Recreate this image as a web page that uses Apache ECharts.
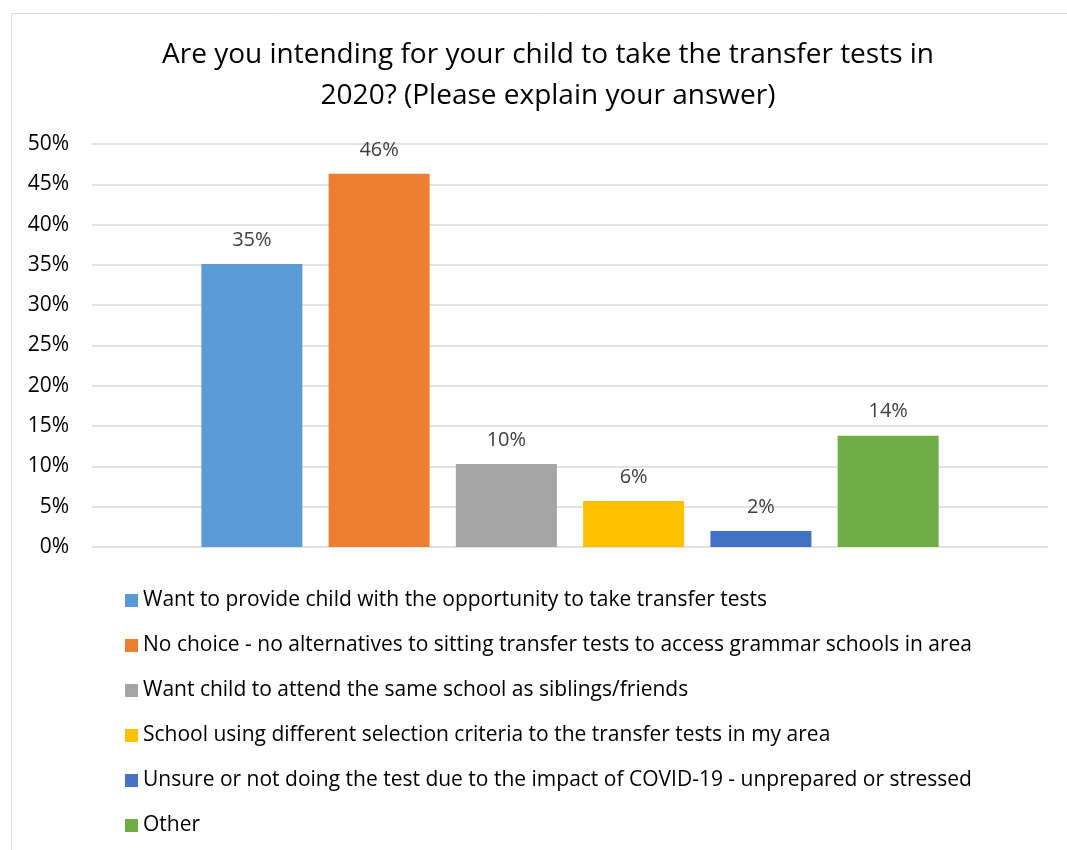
<!DOCTYPE html>
<html>
<head>
<meta charset="utf-8">
<title>Transfer tests 2020</title>
<script src="https://cdn.jsdelivr.net/npm/echarts@6/dist/echarts.min.js"></script>
<style>
  html, body { margin: 0; padding: 0; background: #fff; }
  #chart { width: 1067px; height: 850px; }
</style>
</head>
<body>
<div id="chart"></div>
<script>
// answers (one series each, like the Excel chart)
var answers = [
  "Want to provide child with the opportunity to take transfer tests",
  "No choice - no alternatives to sitting transfer tests to access grammar schools in area",
  "Want child to attend the same school as siblings/friends",
  "School using different selection criteria to the transfer tests in my area",
  "Unsure or not doing the test due to the impact of COVID-19 - unprepared or stressed",
  "Other"
];
// share of respondents, %
var shares = [35.1, 46.3, 10.3, 5.7, 2.0, 13.8];
var colors = ["#5B9BD5", "#ED7D31", "#A5A5A5", "#FFC000", "#4472C4", "#70AD47"];
var yTicks = [0, 5, 10, 15, 20, 25, 30, 35, 40, 45, 50];

var myChart = echarts.init(document.getElementById("chart"));
var font = "'Open Sans', sans-serif";

var series = answers.map(function (name, i) {
  return {
    name: name,
    type: "bar",
    barWidth: 101,
    barGap: "26%",
    itemStyle: { color: colors[i] },
    label: {
      show: true,
      position: "top",
      distance: 14,
      color: "#404040",
      fontSize: 20,
      fontFamily: font,
      formatter: function (p) { return Math.round(p.value) + "%"; }
    },
    data: [shares[i]]
  };
});

var option = {
  animation: false,
  backgroundColor: "#fff",
  textStyle: { fontFamily: font },
  title: {
    text: "Are you intending for your child to take the transfer tests in\n2020? (Please explain your answer)",
    left: 543,
    top: 30,
    textAlign: "center",
    textStyle: {
      fontSize: 28,
      fontWeight: "normal",
      color: "#000",
      lineHeight: 41,
      fontFamily: font
    }
  },
  graphic: [{
    type: "rect",
    shape: { x: 11.5, y: 13.5, width: 1200, height: 1000 },
    style: { fill: null, stroke: "#d9d9d9", lineWidth: 1 },
    silent: true
  }],
  legend: {
    orient: "vertical",
    left: 125,
    top: 588,
    padding: 0,
    itemWidth: 13,
    itemHeight: 13,
    itemGap: 20,
    icon: "rect",
    textStyle: { fontSize: 21, color: "#000", lineHeight: 25, fontFamily: font },
    data: answers
  },
  grid: { left: 92, right: 19, top: 144, bottom: 303, containLabel: false },
  xAxis: {
    type: "category",
    data: [""],
    axisLine: { show: false },
    axisTick: { show: false },
    axisLabel: { show: false }
  },
  yAxis: {
    type: "value",
    min: yTicks[0],
    max: yTicks[yTicks.length - 1],
    interval: 5,
    axisLine: { show: false },
    axisTick: { show: false },
    axisLabel: {
      fontSize: 21,
      color: "#000",
      margin: 23,
      fontFamily: font,
      formatter: "{value}%"
    },
    splitLine: { lineStyle: { color: "#d9d9d9", width: 1.5 } }
  },
  series: series
};

option && myChart.setOption(option);
</script>
</body>
</html>
